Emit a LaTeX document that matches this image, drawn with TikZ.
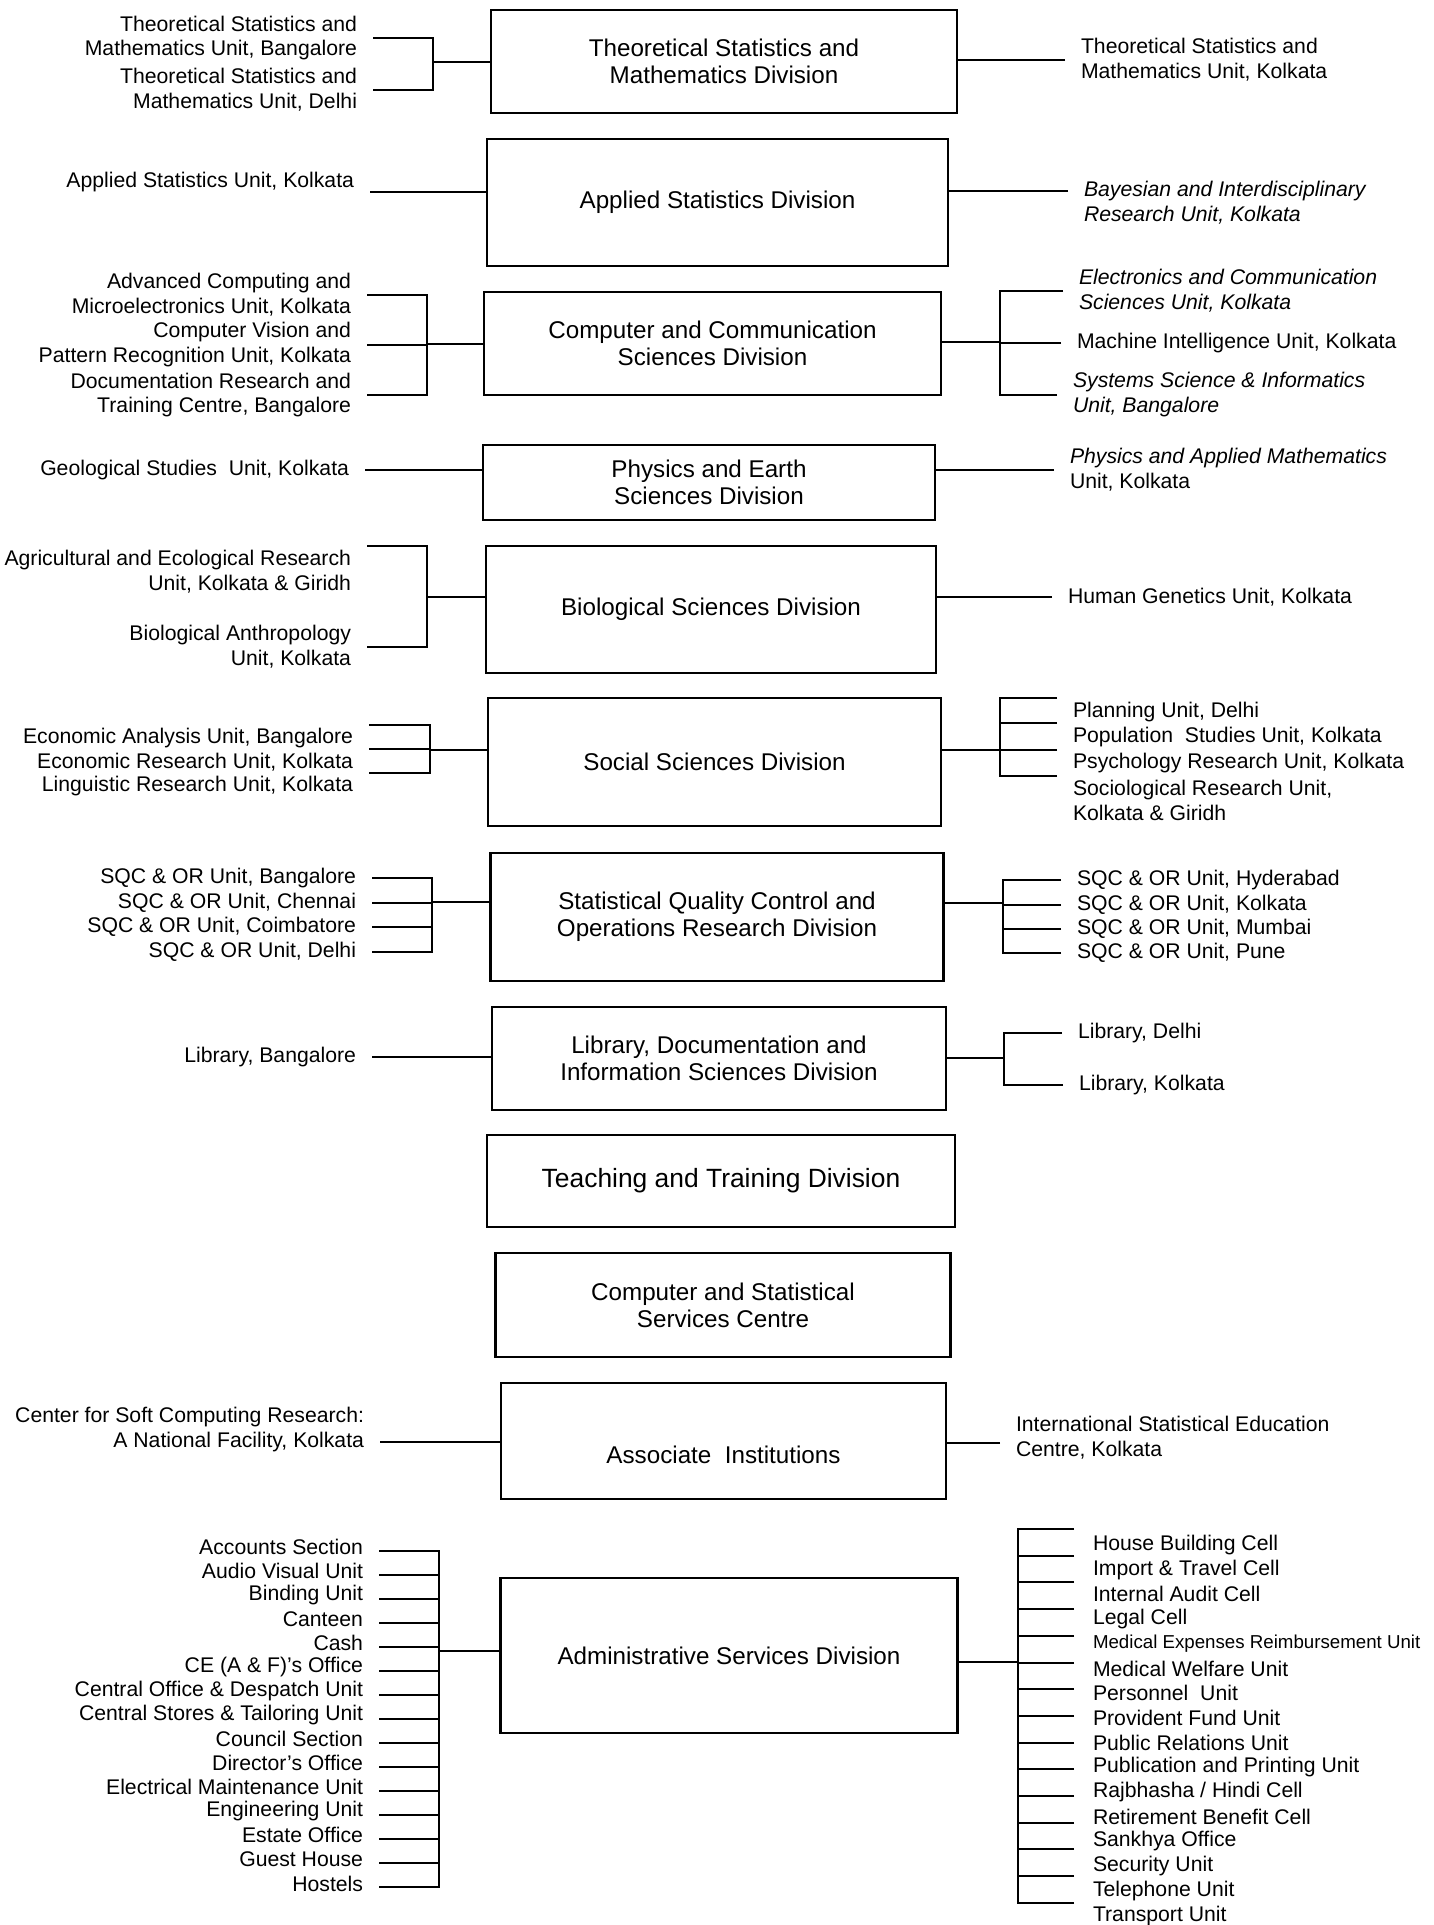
\documentclass[tikz,border=0pt]{standalone}
\usepackage{fontspec}
\setmainfont{Liberation Sans}
\newcommand{\divfont}{\fontsize{24.2}{27}\selectfont}
\newcommand{\bigdivfont}{\fontsize{26.4}{30}\selectfont}
\newcommand{\unitfont}{\fontsize{21.2}{24.8}\selectfont}
\newcommand{\smallunitfont}{\fontsize{18.7}{20}\selectfont}
\tikzset{
  division/.style={draw, line width=2.3pt, align=center, inner sep=0pt, font=\divfont},
  unitl/.style={anchor=east, align=right, inner sep=0pt, outer xsep=16pt, outer ysep=0pt, font=\unitfont},
  unitr/.style={anchor=west, align=left, inner sep=0pt, outer xsep=16pt, outer ysep=0pt, font=\unitfont}
}
\begin{document}
\begin{tikzpicture}[x=1pt, y=-1pt, line width=2pt]
\useasboundingbox (0,0) rectangle (1434,1925);

\node[division, minimum width=466pt, minimum height=103pt] (tsm)  at (724,61.5)   {Theoretical Statistics and\\Mathematics Division};
\node[division, minimum width=461pt, minimum height=127pt] (asd)  at (717.5,202.5) {Applied Statistics Division};
\node[division, minimum width=457pt, minimum height=103pt] (ccs)  at (712.5,343.5) {Computer and Communication\\Sciences Division};
\node[division, minimum width=452pt, minimum height=75pt]  (pes)  at (709,482.5)   {Physics and Earth\\Sciences Division};
\node[division, minimum width=450pt, minimum height=127pt] (bsd)  at (711,609.5)   {Biological Sciences Division};
\node[division, minimum width=453pt, minimum height=128pt] (ssd)  at (714.5,762)   {Social Sciences Division};
\node[division, minimum width=453pt, minimum height=128pt] (sqc)  at (717,917)     {Statistical Quality Control and\\Operations Research Division};
\node[division, minimum width=454pt, minimum height=103pt] (ldis) at (719,1058.5)  {Library, Documentation and\\Information Sciences Division};
\node[division, minimum width=468pt, minimum height=92pt, font=\bigdivfont] (ttd) at (721,1181) {Teaching and Training Division};
\node[division, minimum width=455pt, minimum height=104pt] (cssc) at (723,1305)    {Computer and Statistical\\Services Centre};
\node[division, minimum width=445pt, minimum height=116pt] (ai)   at (723.5,1441)  {};
\node[font=\divfont] (aitext) at ([yshift=-14pt]ai.center) {Associate\ \ Institutions};
\node[division, minimum width=457pt, minimum height=155pt] (adm)  at (729,1655.5)  {Administrative Services Division};

\node[unitl] (tsmL1) at (373,38) {Theoretical Statistics and\\Mathematics Unit, Bangalore};
\node[unitl] (tsmL2) at (373,90) {Theoretical Statistics and\\Mathematics Unit, Delhi};
\node[unitr] (tsmR) at (1065,59.5) {Theoretical Statistics and\\Mathematics Unit, Kolkata};

\node[unitl] (asdL) at (370,182) {Applied Statistics Unit, Kolkata};
\node[unitr, font=\unitfont\itshape] (asdR) at (1068,202.5) {Bayesian and Interdisciplinary\\Research Unit, Kolkata};

\node[unitl] (ccsL1) at (367,295) {Advanced Computing and\\Microelectronics Unit, Kolkata};
\node[unitl] (ccsL2) at (367,344.5) {Computer Vision and\\Pattern Recognition Unit, Kolkata};
\node[unitl] (ccsL3) at (367,395) {Documentation Research and\\Training Centre, Bangalore};
\node[unitr, font=\unitfont\itshape] (ccsR1) at (1063,290.5) {Electronics and Communication\\Sciences Unit, Kolkata};
\node[unitr] (ccsR2) at (1061,343) {Machine Intelligence Unit, Kolkata};
\node[unitr, font=\unitfont\itshape] (ccsR3) at (1057,394.5) {Systems Science \& Informatics\\Unit, Bangalore};

\node[unitl] (pesL) at (365,470) {Geological Studies\ \ Unit, Kolkata};
\node[unitr] (pesR) at (1054,469.5) {\textit{Physics and Applied Mathematics}\\Unit, Kolkata};

\node[unitl] (bsdL1) at (367,571.5) {Agricultural and Ecological Research\\Unit, Kolkata \& Giridh};
\node[unitl] (bsdL2) at (367,646.5) {Biological Anthropology\\Unit, Kolkata};
\node[unitr] (bsdR) at (1052,597) {Human Genetics Unit, Kolkata};

\node[unitl] (ssdL1) at (369,738) {Economic Analysis Unit, Bangalore};
\node[unitl] (ssdL2) at (369,762) {Economic Research Unit, Kolkata};
\node[unitl] (ssdL3) at (369,786) {Linguistic Research Unit, Kolkata};
\node[unitr] (ssdR1) at (1057,712) {Planning Unit, Delhi};
\node[unitr] (ssdR2) at (1057,737) {Population\ \ Studies Unit, Kolkata};
\node[unitr] (ssdR3) at (1057,763) {Psychology Research Unit, Kolkata};
\node[unitr] (ssdR4) at (1057,800.5) {Sociological Research Unit,\\Kolkata \& Giridh};

\node[unitl] (sqcL1) at (372,878) {SQC \& OR Unit, Bangalore};
\node[unitl] (sqcL2) at (372,903) {SQC \& OR Unit, Chennai};
\node[unitl] (sqcL3) at (372,927) {SQC \& OR Unit, Coimbatore};
\node[unitl] (sqcL4) at (372,952) {SQC \& OR Unit, Delhi};
\node[unitr] (sqcR1) at (1061,880) {SQC \& OR Unit, Hyderabad};
\node[unitr] (sqcR2) at (1061,905) {SQC \& OR Unit, Kolkata};
\node[unitr] (sqcR3) at (1061,929) {SQC \& OR Unit, Mumbai};
\node[unitr] (sqcR4) at (1061,953) {SQC \& OR Unit, Pune};

\node[unitl] (ldisL) at (372,1057) {Library, Bangalore};
\node[unitr] (ldisR1) at (1062,1033) {Library, Delhi};
\node[unitr] (ldisR2) at (1063,1085) {Library, Kolkata};

\node[unitl] (aiL) at (380,1429.5) {Center for Soft Computing Research:\\A National Facility, Kolkata};
\node[unitr] (aiR) at (1000,1437.5) {International Statistical Education\\Centre, Kolkata};

\foreach \t [count=\i] in {Accounts Section, Audio Visual Unit, Binding Unit, Canteen, Cash,
    CE (A \& F)'s Office, Central Office \& Despatch Unit, Central Stores \& Tailoring Unit,
    Council Section, Director's Office, Electrical Maintenance Unit, Engineering Unit,
    Estate Office, Guest House, Hostels}
  \node[unitl] (admL\i) at (379,{1546.7+24.05*(\i-1)}) {\t};
\foreach \t [count=\i] in {House Building Cell, Import \& Travel Cell, Internal Audit Cell, Legal Cell,
    {\smallunitfont Medical Expenses Reimbursement Unit}, Medical Welfare Unit, Personnel\ \ Unit,
    Provident Fund Unit, Public Relations Unit, Publication and Printing Unit, Rajbhasha / Hindi Cell,
    Retirement Benefit Cell, Sankhya Office, Security Unit, Telephone Unit, Transport Unit}
  \node[unitr] (admR\i) at (1077,{1545+24.7*(\i-1)}) {\t};

\coordinate (tsmJ) at (433,62);
\coordinate (ccsJL) at (427,344);
\coordinate (ccsJR) at (1000,342);
\coordinate (bsdJ) at (427,597);
\coordinate (ssdJL) at (430,750);
\coordinate (ssdJR) at (1000,750);
\coordinate (sqcJL) at (432,902);
\coordinate (sqcJR) at (1003,903);
\coordinate (ldisJ) at (1004,1058);
\coordinate (admJL) at (439,1651);
\coordinate (admJR) at (1018,1662);

\draw (tsmL1.east) -| (tsmJ);
\draw (tsmL2.east) -| (tsmJ);
\draw (tsmJ) -- (tsmJ -| tsm.west);
\draw (tsmR.west) -- (tsmR.west -| tsm.east);

\draw ([yshift=-10pt]asdL.east) -- ([yshift=-10pt]asdL.east -| asd.west);
\draw ([yshift=11.5pt]asdR.west) -- ([yshift=11.5pt]asdR.west -| asd.east);

\foreach \i in {1,2,3} {
  \draw (ccsL\i.east) -| (ccsJL);
  \draw (ccsR\i.west) -| (ccsJR);
}
\draw (ccsJL) -- (ccsJL -| ccs.west);
\draw (ccsJR) -- (ccsJR -| ccs.east);

\draw (pesL.east) -- (pesL.east -| pes.west);
\draw (pesR.west) -- (pesR.west -| pes.east);

\draw ([yshift=25.5pt]bsdL1.east) -| (bsdJ);
\draw (bsdL2.east) -| (bsdJ);
\draw (bsdJ) -- (bsdJ -| bsd.west);
\draw (bsdR.west) -- (bsdR.west -| bsd.east);

\foreach \i in {1,2,3}
  \draw ([yshift=13pt]ssdL\i.east) -| (ssdJL);
\foreach \i/\s in {1/14,2/14,3/13,4/24.5}
  \draw ([yshift=\s pt]ssdR\i.west) -| (ssdJR);
\draw (ssdJL) -- (ssdJL -| ssd.west);
\draw (ssdJR) -- (ssdJR -| ssd.east);

\foreach \i in {1,...,4} {
  \draw (sqcL\i.east) -| (sqcJL);
  \draw (sqcR\i.west) -| (sqcJR);
}
\draw (sqcJL) -- (sqcJL -| sqc.west);
\draw (sqcJR) -- (sqcJR -| sqc.east);

\draw (ldisL.east) -- (ldisL.east -| ldis.west);
\draw (ldisR1.west) -| (ldisJ);
\draw (ldisR2.west) -| (ldisJ);
\draw (ldisJ) -- (ldisJ -| ldis.east);

\draw ([yshift=-12.5pt]aiL.east) -- ([yshift=-12.5pt]aiL.east -| ai.west);
\draw ([yshift=-5.5pt]aiR.west) -- ([yshift=-5.5pt]aiR.west -| ai.east);

\foreach \i in {1,...,15}
  \draw ([yshift=-4pt]admL\i.east) -| (admJL);
\foreach \i in {1,...,15} {
  \coordinate (admS\i) at (1074,{1529+26.7*(\i-1)});
  \draw (admS\i) -| (admJR);
}
\draw (admJL) -- (admJL -| adm.west);
\draw (admJR) -- (admJR -| adm.east);
\end{tikzpicture}
\end{document}
